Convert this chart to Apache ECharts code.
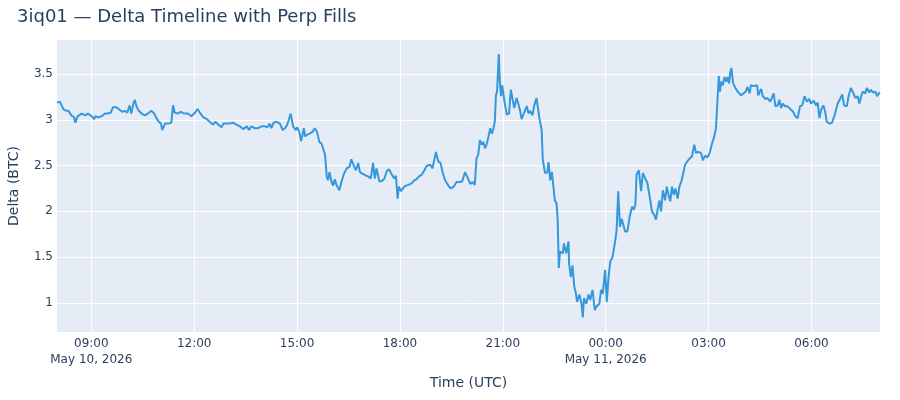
<!DOCTYPE html>
<html>
<head>
<meta charset="utf-8">
<script src="https://cdn.jsdelivr.net/npm/echarts@6/dist/echarts.min.js"></script>
<style>
  html, body { margin: 0; padding: 0; background: #fff; }
  #chart { width: 900px; height: 400px; }
</style>
</head>
<body>
<div id="chart"></div>
<script>
// Time axis: minutes elapsed since 2026-05-10 08:00 UTC
const startLabel = '2026-05-10 08:00 UTC';
const offsetMin = [0,5,8,11,13,16,20,25,30,32,36,43,50,54,61,65,67,72,78,84,89,94,98,104,110,114,119,123,127,130,134,136,139,143,148,154,159,165,170,174,178,182,184,189,194,200,203,206,211,217,222,229,235,240,246,250,256,262,267,273,277,282,288,291,297,302,308,314,320,326,332,336,340,346,352,358,364,368,372,375,379,384,390,395,399,403,406,409,411,413,418,420,424,427,430,432,434,438,442,447,451,455,459,463,466,469,472,474,477,480,483,486,489,494,498,502,507,512,515,520,523,527,530,535,541,545,549,553,556,559,564,568,573,577,581,586,590,593,596,598,602,606,610,615,621,625,629,633,638,643,647,653,657,660,663,667,671,675,679,682,685,689,694,699,705,709,714,719,723,727,731,734,737,740,743,746,749,752,755,758,761,763,766,768,770,773,775,777,779,783,787,791,794,797,800,804,807,810,813,818,822,825,828,832,835,839,842,844,848,850,852,854,858,860,863,866,868,871,874,876,878,880,885,887,891,895,896,899,902,905,908,910,914,918,920,922,926,930,933,936,937,941,944,949,952,955,959,962,965,968,972,976,979,982,985,988,991,994,998,1002,1006,1009,1012,1014,1018,1022,1025,1029,1033,1037,1041,1045,1048,1051,1054,1057,1060,1064,1067,1070,1073,1076,1079,1082,1086,1089,1093,1096,1099,1102,1107,1111,1115,1118,1122,1127,1130,1134,1138,1142,1146,1150,1153,1156,1158,1160,1162,1165,1168,1171,1173,1176,1178,1180,1183,1187,1191,1194,1197,1201,1205,1208,1212,1214,1219,1225,1227,1232,1235,1239,1243,1248,1251,1254,1257,1261,1264,1267,1270,1274,1278,1283,1288,1292,1296,1298,1300,1304,1308,1312,1316,1319,1324,1328,1331,1334,1337,1341,1344,1347,1352,1356,1360,1363,1366,1370,1374,1377,1382,1385,1389,1393,1397,1401,1404,1407,1410,1414,1417,1421,1424,1428,1432,1435,1438,1440];
const deltaBTC = [3.19,3.20,3.16,3.12,3.13,3.10,3.10,3.05,3.03,2.97,3.04,3.07,3.05,3.07,3.04,3.01,3.04,3.03,3.04,3.07,3.07,3.08,3.14,3.14,3.11,3.09,3.10,3.08,3.16,3.07,3.19,3.22,3.15,3.10,3.07,3.05,3.07,3.10,3.07,3.02,2.98,2.96,2.89,2.96,2.96,2.97,3.16,3.08,3.07,3.09,3.07,3.07,3.04,3.07,3.12,3.08,3.03,3.01,2.98,2.95,2.98,2.95,2.92,2.96,2.96,2.96,2.97,2.95,2.93,2.90,2.93,2.89,2.93,2.91,2.91,2.93,2.93,2.92,2.96,2.91,2.97,2.98,2.96,2.89,2.91,2.95,2.96,3.07,3.07,2.93,2.89,2.92,2.87,2.77,2.85,2.91,2.82,2.84,2.85,2.87,2.91,2.87,2.76,2.74,2.74,2.62,2.38,2.34,2.43,2.33,2.28,2.35,2.29,2.23,2.33,2.41,2.47,2.49,2.57,2.49,2.45,2.53,2.43,2.41,2.39,2.38,2.36,2.53,2.36,2.47,2.33,2.33,2.36,2.44,2.46,2.40,2.36,2.39,2.14,2.27,2.22,2.26,2.28,2.29,2.31,2.34,2.35,2.38,2.40,2.45,2.50,2.51,2.47,2.46,2.65,2.55,2.53,2.42,2.34,2.33,2.28,2.25,2.27,2.32,2.32,2.33,2.43,2.36,2.30,2.32,2.29,2.58,2.62,2.78,2.73,2.76,2.69,2.74,2.82,2.91,2.85,2.89,2.98,3.27,3.31,3.72,3.40,3.26,3.38,3.20,3.06,3.07,3.33,3.31,3.13,3.24,3.18,3.11,3.01,3.09,3.15,3.07,3.10,3.05,3.16,3.24,3.23,3.02,2.89,2.56,2.55,2.42,2.43,2.54,2.34,2.43,2.42,2.12,2.09,1.91,1.38,1.56,1.54,1.65,1.54,1.67,1.43,1.28,1.41,1.18,1.10,1.01,1.09,0.98,0.84,1.05,0.99,1.09,1.03,1.05,1.14,0.92,0.96,0.99,1.14,1.10,1.36,1.01,1.28,1.45,1.50,1.65,1.78,2.22,1.83,1.92,1.94,1.78,1.78,1.94,2.05,2.02,2.07,2.40,2.45,2.22,2.42,2.36,2.31,2.16,2.00,1.96,1.91,2.02,2.12,2.00,2.23,2.12,2.27,2.18,2.11,2.27,2.18,2.25,2.14,2.27,2.34,2.33,2.51,2.54,2.58,2.60,2.73,2.64,2.65,2.64,2.56,2.61,2.59,2.64,2.74,2.82,2.91,3.26,3.48,3.31,3.42,3.38,3.47,3.42,3.47,3.40,3.52,3.57,3.40,3.35,3.31,3.32,3.27,3.29,3.31,3.36,3.29,3.38,3.37,3.38,3.27,3.34,3.26,3.23,3.24,3.20,3.22,3.29,3.15,3.16,3.22,3.13,3.18,3.15,3.15,3.12,3.09,3.04,3.02,3.04,3.15,3.16,3.26,3.20,3.23,3.18,3.21,3.16,3.19,3.02,3.11,3.16,3.09,2.98,2.96,2.97,3.04,3.05,3.18,3.23,3.28,3.16,3.15,3.26,3.35,3.30,3.24,3.26,3.18,3.26,3.31,3.29,3.35,3.30,3.33,3.30,3.31,3.26,3.29,3.30];

// Tick marks (minutes since start) and their labels
const xTickOffsets = [60,240,420,600,780,960,1140,1320];
const xTickLabels = ['09:00','12:00','15:00','18:00','21:00','00:00','03:00','06:00'];
const xTickDates = ['May 10, 2026','','','','','May 11, 2026','',''];
const yTickValues = [1,1.5,2,2.5,3,3.5];

const textColor = '#2a3f5f';
const font = '"DejaVu Sans", Verdana, sans-serif';

const chart = echarts.init(document.getElementById('chart'));
chart.setOption({
  animation: false,
  backgroundColor: '#ffffff',
  title: {
    text: '3iq01 — Delta Timeline with Perp Fills',
    left: 12,
    top: 3,
    textStyle: { color: textColor, fontSize: 18, fontWeight: 'normal', fontFamily: font }
  },
  grid: {
    left: 57, right: 20, top: 40, bottom: 68,
    containLabel: false,
    outerBoundsMode: 'none',
    show: true, backgroundColor: '#E5ECF6', borderWidth: 0
  },
  xAxis: {
    type: 'value',
    min: 0,
    max: 1440,
    name: 'Time (UTC)',
    nameLocation: 'middle',
    nameGap: 44,
    nameTextStyle: { color: textColor, fontSize: 14, fontFamily: font },
    axisLine: { show: false },
    axisTick: { show: false, customValues: xTickOffsets },
    splitLine: { show: true, lineStyle: { color: '#ffffff', width: 1 } },
    axisLabel: {
      customValues: xTickOffsets,
      color: textColor,
      fontSize: 12,
      fontFamily: font,
      margin: 4,
      lineHeight: 16,
      formatter: function (v) {
        const i = xTickOffsets.indexOf(v);
        if (i < 0) return '';
        return xTickDates[i] ? xTickLabels[i] + '\n' + xTickDates[i] : xTickLabels[i];
      }
    }
  },
  yAxis: {
    type: 'value',
    min: 0.68,
    max: 3.875,
    name: 'Delta (BTC)',
    nameLocation: 'middle',
    nameGap: 36,
    nameRotate: 90,
    nameTextStyle: { color: textColor, fontSize: 14, fontFamily: font },
    axisLine: { show: false },
    axisTick: { show: false, customValues: yTickValues },
    splitLine: { show: true, lineStyle: { color: '#ffffff', width: 1 } },
    axisLabel: {
      customValues: yTickValues,
      color: textColor,
      fontSize: 12,
      fontFamily: font,
      margin: 4
    }
  },
  series: [{
    type: 'line',
    data: offsetMin.map((m, i) => [m, deltaBTC[i]]),
    showSymbol: false,
    symbol: 'none',
    lineStyle: { color: '#3498db', width: 2 },
    itemStyle: { color: '#3498db' }
  }]
});
</script>
</body>
</html>
